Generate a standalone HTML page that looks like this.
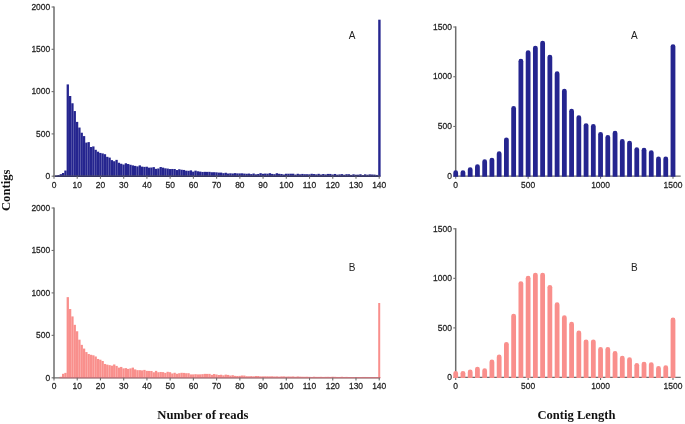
<!DOCTYPE html>
<html><head><meta charset="utf-8"><title>Figure</title>
<style>
html,body{margin:0;padding:0;background:#fff;}
body{width:685px;height:424px;overflow:hidden;font-family:"Liberation Sans",sans-serif;}
svg{display:block;will-change:transform;}
svg text{font-family:"Liberation Sans",sans-serif;fill:#222;stroke:#222;stroke-width:0.25px;}
svg text.pl{stroke:none;fill:#222;}
svg text.sf{font-family:"Liberation Serif",serif;font-weight:bold;fill:#111;stroke:none;}
</style></head><body>
<svg width="685" height="424" viewBox="0 0 685 424">
<rect width="685" height="424" fill="#fff"/>
<rect x="55.01" y="175.52" width="2.323" height="0.68" fill="#25258f"/>
<rect x="57.33" y="175.02" width="2.323" height="1.18" fill="#25258f"/>
<rect x="59.66" y="174.17" width="2.323" height="2.03" fill="#25258f"/>
<rect x="61.98" y="172.99" width="2.323" height="3.21" fill="#25258f"/>
<rect x="64.30" y="170.53" width="2.323" height="5.67" fill="#25258f"/>
<rect x="66.62" y="84.41" width="2.323" height="91.79" fill="#25258f"/>
<rect x="68.95" y="96.00" width="2.323" height="80.20" fill="#25258f"/>
<rect x="71.27" y="103.27" width="2.323" height="72.93" fill="#25258f"/>
<rect x="73.59" y="111.06" width="2.323" height="65.14" fill="#25258f"/>
<rect x="75.92" y="121.89" width="2.323" height="54.31" fill="#25258f"/>
<rect x="78.24" y="127.55" width="2.323" height="48.64" fill="#25258f"/>
<rect x="80.56" y="132.72" width="2.323" height="43.48" fill="#25258f"/>
<rect x="82.89" y="136.10" width="2.323" height="40.10" fill="#25258f"/>
<rect x="85.21" y="142.61" width="2.323" height="33.59" fill="#25258f"/>
<rect x="87.53" y="142.11" width="2.323" height="34.09" fill="#25258f"/>
<rect x="89.85" y="147.01" width="2.323" height="29.19" fill="#25258f"/>
<rect x="92.18" y="146.42" width="2.323" height="29.78" fill="#25258f"/>
<rect x="94.50" y="149.80" width="2.323" height="26.40" fill="#25258f"/>
<rect x="96.82" y="151.67" width="2.323" height="24.53" fill="#25258f"/>
<rect x="99.15" y="152.94" width="2.323" height="23.26" fill="#25258f"/>
<rect x="101.47" y="153.44" width="2.323" height="22.76" fill="#25258f"/>
<rect x="103.79" y="154.20" width="2.323" height="22.00" fill="#25258f"/>
<rect x="106.12" y="156.83" width="2.323" height="19.37" fill="#25258f"/>
<rect x="108.44" y="157.59" width="2.323" height="18.61" fill="#25258f"/>
<rect x="110.76" y="160.13" width="2.323" height="16.07" fill="#25258f"/>
<rect x="113.08" y="161.23" width="2.323" height="14.97" fill="#25258f"/>
<rect x="115.41" y="159.87" width="2.323" height="16.33" fill="#25258f"/>
<rect x="117.73" y="162.75" width="2.323" height="13.45" fill="#25258f"/>
<rect x="120.05" y="163.76" width="2.323" height="12.44" fill="#25258f"/>
<rect x="122.38" y="164.53" width="2.323" height="11.67" fill="#25258f"/>
<rect x="124.70" y="163.26" width="2.323" height="12.94" fill="#25258f"/>
<rect x="127.02" y="164.02" width="2.323" height="12.18" fill="#25258f"/>
<rect x="129.35" y="164.78" width="2.323" height="11.42" fill="#25258f"/>
<rect x="131.67" y="165.37" width="2.323" height="10.83" fill="#25258f"/>
<rect x="133.99" y="165.88" width="2.323" height="10.32" fill="#25258f"/>
<rect x="136.31" y="166.39" width="2.323" height="9.81" fill="#25258f"/>
<rect x="138.64" y="165.37" width="2.323" height="10.83" fill="#25258f"/>
<rect x="140.96" y="166.64" width="2.323" height="9.56" fill="#25258f"/>
<rect x="143.28" y="166.89" width="2.323" height="9.31" fill="#25258f"/>
<rect x="145.61" y="166.72" width="2.323" height="9.48" fill="#25258f"/>
<rect x="147.93" y="167.64" width="2.323" height="8.56" fill="#25258f"/>
<rect x="150.25" y="167.53" width="2.323" height="8.67" fill="#25258f"/>
<rect x="152.58" y="167.13" width="2.323" height="9.07" fill="#25258f"/>
<rect x="154.90" y="168.83" width="2.323" height="7.37" fill="#25258f"/>
<rect x="157.22" y="168.47" width="2.323" height="7.73" fill="#25258f"/>
<rect x="159.54" y="167.03" width="2.323" height="9.17" fill="#25258f"/>
<rect x="161.87" y="167.65" width="2.323" height="8.55" fill="#25258f"/>
<rect x="164.19" y="168.32" width="2.323" height="7.88" fill="#25258f"/>
<rect x="166.51" y="168.58" width="2.323" height="7.62" fill="#25258f"/>
<rect x="168.84" y="169.05" width="2.323" height="7.15" fill="#25258f"/>
<rect x="171.16" y="168.97" width="2.323" height="7.23" fill="#25258f"/>
<rect x="173.48" y="169.02" width="2.323" height="7.18" fill="#25258f"/>
<rect x="175.81" y="170.06" width="2.323" height="6.14" fill="#25258f"/>
<rect x="178.13" y="169.26" width="2.323" height="6.94" fill="#25258f"/>
<rect x="180.45" y="169.74" width="2.323" height="6.46" fill="#25258f"/>
<rect x="182.77" y="169.96" width="2.323" height="6.24" fill="#25258f"/>
<rect x="185.10" y="170.68" width="2.323" height="5.52" fill="#25258f"/>
<rect x="187.42" y="170.80" width="2.323" height="5.40" fill="#25258f"/>
<rect x="189.74" y="170.36" width="2.323" height="5.84" fill="#25258f"/>
<rect x="192.07" y="171.64" width="2.323" height="4.56" fill="#25258f"/>
<rect x="194.39" y="170.64" width="2.323" height="5.56" fill="#25258f"/>
<rect x="196.71" y="171.28" width="2.323" height="4.92" fill="#25258f"/>
<rect x="199.04" y="171.60" width="2.323" height="4.60" fill="#25258f"/>
<rect x="201.36" y="171.95" width="2.323" height="4.25" fill="#25258f"/>
<rect x="203.68" y="171.83" width="2.323" height="4.37" fill="#25258f"/>
<rect x="206.00" y="171.88" width="2.323" height="4.32" fill="#25258f"/>
<rect x="208.33" y="171.85" width="2.323" height="4.35" fill="#25258f"/>
<rect x="210.65" y="172.23" width="2.323" height="3.97" fill="#25258f"/>
<rect x="212.97" y="172.20" width="2.323" height="4.00" fill="#25258f"/>
<rect x="215.30" y="172.34" width="2.323" height="3.86" fill="#25258f"/>
<rect x="217.62" y="172.61" width="2.323" height="3.59" fill="#25258f"/>
<rect x="219.94" y="172.59" width="2.323" height="3.61" fill="#25258f"/>
<rect x="222.27" y="173.18" width="2.323" height="3.02" fill="#25258f"/>
<rect x="224.59" y="172.76" width="2.323" height="3.44" fill="#25258f"/>
<rect x="226.91" y="173.51" width="2.323" height="2.69" fill="#25258f"/>
<rect x="229.23" y="173.31" width="2.323" height="2.89" fill="#25258f"/>
<rect x="231.56" y="173.49" width="2.323" height="2.71" fill="#25258f"/>
<rect x="233.88" y="173.12" width="2.323" height="3.08" fill="#25258f"/>
<rect x="236.20" y="173.41" width="2.323" height="2.79" fill="#25258f"/>
<rect x="238.53" y="173.42" width="2.323" height="2.78" fill="#25258f"/>
<rect x="240.85" y="173.32" width="2.323" height="2.88" fill="#25258f"/>
<rect x="243.17" y="173.61" width="2.323" height="2.59" fill="#25258f"/>
<rect x="245.50" y="173.77" width="2.323" height="2.43" fill="#25258f"/>
<rect x="247.82" y="173.57" width="2.323" height="2.63" fill="#25258f"/>
<rect x="250.14" y="174.09" width="2.323" height="2.11" fill="#25258f"/>
<rect x="252.46" y="173.52" width="2.323" height="2.68" fill="#25258f"/>
<rect x="254.79" y="174.34" width="2.323" height="1.86" fill="#25258f"/>
<rect x="257.11" y="173.97" width="2.323" height="2.23" fill="#25258f"/>
<rect x="259.43" y="173.18" width="2.323" height="3.02" fill="#25258f"/>
<rect x="261.76" y="173.80" width="2.323" height="2.40" fill="#25258f"/>
<rect x="264.08" y="173.57" width="2.323" height="2.63" fill="#25258f"/>
<rect x="266.40" y="173.70" width="2.323" height="2.50" fill="#25258f"/>
<rect x="268.73" y="173.20" width="2.323" height="3.00" fill="#25258f"/>
<rect x="271.05" y="173.91" width="2.323" height="2.29" fill="#25258f"/>
<rect x="273.37" y="174.18" width="2.323" height="2.02" fill="#25258f"/>
<rect x="275.69" y="173.22" width="2.323" height="2.98" fill="#25258f"/>
<rect x="278.02" y="173.80" width="2.323" height="2.40" fill="#25258f"/>
<rect x="280.34" y="173.99" width="2.323" height="2.21" fill="#25258f"/>
<rect x="282.66" y="174.52" width="2.323" height="1.68" fill="#25258f"/>
<rect x="284.99" y="173.75" width="2.323" height="2.45" fill="#25258f"/>
<rect x="287.31" y="173.77" width="2.323" height="2.43" fill="#25258f"/>
<rect x="289.63" y="173.72" width="2.323" height="2.48" fill="#25258f"/>
<rect x="291.96" y="173.71" width="2.323" height="2.49" fill="#25258f"/>
<rect x="294.28" y="174.58" width="2.323" height="1.62" fill="#25258f"/>
<rect x="296.60" y="173.78" width="2.323" height="2.42" fill="#25258f"/>
<rect x="298.92" y="174.32" width="2.323" height="1.88" fill="#25258f"/>
<rect x="301.25" y="173.92" width="2.323" height="2.28" fill="#25258f"/>
<rect x="303.57" y="174.21" width="2.323" height="1.99" fill="#25258f"/>
<rect x="305.89" y="174.22" width="2.323" height="1.98" fill="#25258f"/>
<rect x="308.22" y="174.32" width="2.323" height="1.88" fill="#25258f"/>
<rect x="310.54" y="173.79" width="2.323" height="2.41" fill="#25258f"/>
<rect x="312.86" y="174.06" width="2.323" height="2.14" fill="#25258f"/>
<rect x="315.19" y="174.38" width="2.323" height="1.82" fill="#25258f"/>
<rect x="317.51" y="173.84" width="2.323" height="2.36" fill="#25258f"/>
<rect x="319.83" y="174.56" width="2.323" height="1.64" fill="#25258f"/>
<rect x="322.15" y="174.02" width="2.323" height="2.18" fill="#25258f"/>
<rect x="324.48" y="174.46" width="2.323" height="1.74" fill="#25258f"/>
<rect x="326.80" y="173.93" width="2.323" height="2.27" fill="#25258f"/>
<rect x="329.12" y="173.94" width="2.323" height="2.26" fill="#25258f"/>
<rect x="331.45" y="174.51" width="2.323" height="1.69" fill="#25258f"/>
<rect x="333.77" y="173.97" width="2.323" height="2.23" fill="#25258f"/>
<rect x="336.09" y="174.67" width="2.323" height="1.53" fill="#25258f"/>
<rect x="338.42" y="174.39" width="2.323" height="1.81" fill="#25258f"/>
<rect x="340.74" y="174.14" width="2.323" height="2.06" fill="#25258f"/>
<rect x="343.06" y="174.77" width="2.323" height="1.43" fill="#25258f"/>
<rect x="345.38" y="174.20" width="2.323" height="2.00" fill="#25258f"/>
<rect x="347.71" y="174.23" width="2.323" height="1.97" fill="#25258f"/>
<rect x="350.03" y="174.89" width="2.323" height="1.31" fill="#25258f"/>
<rect x="352.35" y="174.30" width="2.323" height="1.90" fill="#25258f"/>
<rect x="354.68" y="174.73" width="2.323" height="1.47" fill="#25258f"/>
<rect x="357.00" y="174.68" width="2.323" height="1.52" fill="#25258f"/>
<rect x="359.32" y="174.26" width="2.323" height="1.94" fill="#25258f"/>
<rect x="361.65" y="175.08" width="2.323" height="1.12" fill="#25258f"/>
<rect x="363.97" y="174.34" width="2.323" height="1.86" fill="#25258f"/>
<rect x="366.29" y="174.74" width="2.323" height="1.46" fill="#25258f"/>
<rect x="368.61" y="174.35" width="2.323" height="1.85" fill="#25258f"/>
<rect x="370.94" y="174.52" width="2.323" height="1.68" fill="#25258f"/>
<rect x="373.26" y="174.61" width="2.323" height="1.59" fill="#25258f"/>
<rect x="375.58" y="174.93" width="2.323" height="1.27" fill="#25258f"/>
<rect x="378.21" y="19.69" width="2.4" height="156.51" fill="#25258f"/>
<line x1="54.00" y1="6.40" x2="54.00" y2="176.80" stroke="#6e6e6e" stroke-width="1.5" stroke-linecap="butt"/>
<line x1="53.40" y1="176.20" x2="380.02" y2="176.20" stroke="#6e6e6e" stroke-width="1.2" stroke-linecap="butt"/>
<line x1="54.93" y1="176.20" x2="380.61" y2="176.20" stroke="#1b1b58" stroke-width="1.1" stroke-linecap="butt"/>
<line x1="51.60" y1="176.20" x2="54.00" y2="176.20" stroke="#6e6e6e" stroke-width="1.1" stroke-linecap="butt"/>
<text transform="translate(50.20,178.90) scale(0.91,1.05)" text-anchor="end" font-size="9.3" >0</text>
<line x1="51.60" y1="133.90" x2="54.00" y2="133.90" stroke="#6e6e6e" stroke-width="1.1" stroke-linecap="butt"/>
<text transform="translate(50.20,136.60) scale(0.91,1.05)" text-anchor="end" font-size="9.3" >500</text>
<line x1="51.60" y1="91.60" x2="54.00" y2="91.60" stroke="#6e6e6e" stroke-width="1.1" stroke-linecap="butt"/>
<text transform="translate(50.20,94.30) scale(0.91,1.05)" text-anchor="end" font-size="9.3" >1000</text>
<line x1="51.60" y1="49.30" x2="54.00" y2="49.30" stroke="#6e6e6e" stroke-width="1.1" stroke-linecap="butt"/>
<text transform="translate(50.20,52.00) scale(0.91,1.05)" text-anchor="end" font-size="9.3" >1500</text>
<line x1="51.60" y1="7.00" x2="54.00" y2="7.00" stroke="#6e6e6e" stroke-width="1.1" stroke-linecap="butt"/>
<text transform="translate(50.20,9.70) scale(0.91,1.05)" text-anchor="end" font-size="9.3" >2000</text>
<line x1="54.00" y1="176.20" x2="54.00" y2="178.80" stroke="#6e6e6e" stroke-width="1.1" stroke-linecap="butt"/>
<text transform="translate(54.00,187.70) scale(0.91,1.05)" text-anchor="middle" font-size="9.3" >0</text>
<line x1="77.23" y1="176.20" x2="77.23" y2="178.80" stroke="#6e6e6e" stroke-width="1.1" stroke-linecap="butt"/>
<text transform="translate(77.23,187.70) scale(0.91,1.05)" text-anchor="middle" font-size="9.3" >10</text>
<line x1="100.46" y1="176.20" x2="100.46" y2="178.80" stroke="#6e6e6e" stroke-width="1.1" stroke-linecap="butt"/>
<text transform="translate(100.46,187.70) scale(0.91,1.05)" text-anchor="middle" font-size="9.3" >20</text>
<line x1="123.69" y1="176.20" x2="123.69" y2="178.80" stroke="#6e6e6e" stroke-width="1.1" stroke-linecap="butt"/>
<text transform="translate(123.69,187.70) scale(0.91,1.05)" text-anchor="middle" font-size="9.3" >30</text>
<line x1="146.92" y1="176.20" x2="146.92" y2="178.80" stroke="#6e6e6e" stroke-width="1.1" stroke-linecap="butt"/>
<text transform="translate(146.92,187.70) scale(0.91,1.05)" text-anchor="middle" font-size="9.3" >40</text>
<line x1="170.15" y1="176.20" x2="170.15" y2="178.80" stroke="#6e6e6e" stroke-width="1.1" stroke-linecap="butt"/>
<text transform="translate(170.15,187.70) scale(0.91,1.05)" text-anchor="middle" font-size="9.3" >50</text>
<line x1="193.38" y1="176.20" x2="193.38" y2="178.80" stroke="#6e6e6e" stroke-width="1.1" stroke-linecap="butt"/>
<text transform="translate(193.38,187.70) scale(0.91,1.05)" text-anchor="middle" font-size="9.3" >60</text>
<line x1="216.61" y1="176.20" x2="216.61" y2="178.80" stroke="#6e6e6e" stroke-width="1.1" stroke-linecap="butt"/>
<text transform="translate(216.61,187.70) scale(0.91,1.05)" text-anchor="middle" font-size="9.3" >70</text>
<line x1="239.84" y1="176.20" x2="239.84" y2="178.80" stroke="#6e6e6e" stroke-width="1.1" stroke-linecap="butt"/>
<text transform="translate(239.84,187.70) scale(0.91,1.05)" text-anchor="middle" font-size="9.3" >80</text>
<line x1="263.07" y1="176.20" x2="263.07" y2="178.80" stroke="#6e6e6e" stroke-width="1.1" stroke-linecap="butt"/>
<text transform="translate(263.07,187.70) scale(0.91,1.05)" text-anchor="middle" font-size="9.3" >90</text>
<line x1="286.30" y1="176.20" x2="286.30" y2="178.80" stroke="#6e6e6e" stroke-width="1.1" stroke-linecap="butt"/>
<text transform="translate(286.30,187.70) scale(0.91,1.05)" text-anchor="middle" font-size="9.3" >100</text>
<line x1="309.53" y1="176.20" x2="309.53" y2="178.80" stroke="#6e6e6e" stroke-width="1.1" stroke-linecap="butt"/>
<text transform="translate(309.53,187.70) scale(0.91,1.05)" text-anchor="middle" font-size="9.3" >110</text>
<line x1="332.76" y1="176.20" x2="332.76" y2="178.80" stroke="#6e6e6e" stroke-width="1.1" stroke-linecap="butt"/>
<text transform="translate(332.76,187.70) scale(0.91,1.05)" text-anchor="middle" font-size="9.3" >120</text>
<line x1="355.99" y1="176.20" x2="355.99" y2="178.80" stroke="#6e6e6e" stroke-width="1.1" stroke-linecap="butt"/>
<text transform="translate(355.99,187.70) scale(0.91,1.05)" text-anchor="middle" font-size="9.3" >130</text>
<line x1="379.22" y1="176.20" x2="379.22" y2="178.80" stroke="#6e6e6e" stroke-width="1.1" stroke-linecap="butt"/>
<text transform="translate(379.22,187.70) scale(0.91,1.05)" text-anchor="middle" font-size="9.3" >140</text>
<rect x="59.66" y="376.78" width="2.323" height="1.02" fill="#f98f8c"/>
<rect x="61.98" y="373.81" width="2.323" height="3.99" fill="#f98f8c"/>
<rect x="64.30" y="372.88" width="2.323" height="4.92" fill="#f98f8c"/>
<rect x="66.62" y="297.14" width="2.323" height="80.66" fill="#f98f8c"/>
<rect x="68.95" y="309.03" width="2.323" height="68.77" fill="#f98f8c"/>
<rect x="71.27" y="316.42" width="2.323" height="61.38" fill="#f98f8c"/>
<rect x="73.59" y="324.82" width="2.323" height="52.98" fill="#f98f8c"/>
<rect x="75.92" y="331.27" width="2.323" height="46.53" fill="#f98f8c"/>
<rect x="78.24" y="339.68" width="2.323" height="38.12" fill="#f98f8c"/>
<rect x="80.56" y="344.86" width="2.323" height="32.94" fill="#f98f8c"/>
<rect x="82.89" y="348.59" width="2.323" height="29.21" fill="#f98f8c"/>
<rect x="85.21" y="352.08" width="2.323" height="25.72" fill="#f98f8c"/>
<rect x="87.53" y="354.03" width="2.323" height="23.77" fill="#f98f8c"/>
<rect x="89.85" y="354.79" width="2.323" height="23.01" fill="#f98f8c"/>
<rect x="92.18" y="355.30" width="2.323" height="22.50" fill="#f98f8c"/>
<rect x="94.50" y="356.49" width="2.323" height="21.31" fill="#f98f8c"/>
<rect x="96.82" y="358.95" width="2.323" height="18.85" fill="#f98f8c"/>
<rect x="99.15" y="359.72" width="2.323" height="18.08" fill="#f98f8c"/>
<rect x="101.47" y="360.99" width="2.323" height="16.81" fill="#f98f8c"/>
<rect x="103.79" y="363.96" width="2.323" height="13.84" fill="#f98f8c"/>
<rect x="106.12" y="364.64" width="2.323" height="13.16" fill="#f98f8c"/>
<rect x="108.44" y="365.15" width="2.323" height="12.65" fill="#f98f8c"/>
<rect x="110.76" y="365.66" width="2.323" height="12.14" fill="#f98f8c"/>
<rect x="113.08" y="364.47" width="2.323" height="13.33" fill="#f98f8c"/>
<rect x="115.41" y="365.91" width="2.323" height="11.89" fill="#f98f8c"/>
<rect x="117.73" y="367.61" width="2.323" height="10.19" fill="#f98f8c"/>
<rect x="120.05" y="366.93" width="2.323" height="10.87" fill="#f98f8c"/>
<rect x="122.38" y="368.38" width="2.323" height="9.42" fill="#f98f8c"/>
<rect x="124.70" y="368.12" width="2.323" height="9.68" fill="#f98f8c"/>
<rect x="127.02" y="368.89" width="2.323" height="8.91" fill="#f98f8c"/>
<rect x="129.35" y="368.38" width="2.323" height="9.42" fill="#f98f8c"/>
<rect x="131.67" y="367.61" width="2.323" height="10.19" fill="#f98f8c"/>
<rect x="133.99" y="369.39" width="2.323" height="8.41" fill="#f98f8c"/>
<rect x="136.31" y="370.16" width="2.323" height="7.64" fill="#f98f8c"/>
<rect x="138.64" y="370.16" width="2.323" height="7.64" fill="#f98f8c"/>
<rect x="140.96" y="370.41" width="2.323" height="7.39" fill="#f98f8c"/>
<rect x="143.28" y="369.90" width="2.323" height="7.90" fill="#f98f8c"/>
<rect x="145.61" y="370.84" width="2.323" height="6.96" fill="#f98f8c"/>
<rect x="147.93" y="370.92" width="2.323" height="6.88" fill="#f98f8c"/>
<rect x="150.25" y="370.98" width="2.323" height="6.82" fill="#f98f8c"/>
<rect x="152.58" y="372.27" width="2.323" height="5.53" fill="#f98f8c"/>
<rect x="154.90" y="370.88" width="2.323" height="6.92" fill="#f98f8c"/>
<rect x="157.22" y="372.25" width="2.323" height="5.55" fill="#f98f8c"/>
<rect x="159.54" y="371.96" width="2.323" height="5.84" fill="#f98f8c"/>
<rect x="161.87" y="372.13" width="2.323" height="5.67" fill="#f98f8c"/>
<rect x="164.19" y="372.88" width="2.323" height="4.92" fill="#f98f8c"/>
<rect x="166.51" y="371.81" width="2.323" height="5.99" fill="#f98f8c"/>
<rect x="168.84" y="372.22" width="2.323" height="5.58" fill="#f98f8c"/>
<rect x="171.16" y="373.47" width="2.323" height="4.33" fill="#f98f8c"/>
<rect x="173.48" y="372.77" width="2.323" height="5.03" fill="#f98f8c"/>
<rect x="175.81" y="373.77" width="2.323" height="4.03" fill="#f98f8c"/>
<rect x="178.13" y="373.24" width="2.323" height="4.56" fill="#f98f8c"/>
<rect x="180.45" y="372.80" width="2.323" height="5.00" fill="#f98f8c"/>
<rect x="182.77" y="372.91" width="2.323" height="4.89" fill="#f98f8c"/>
<rect x="185.10" y="373.23" width="2.323" height="4.57" fill="#f98f8c"/>
<rect x="187.42" y="373.21" width="2.323" height="4.59" fill="#f98f8c"/>
<rect x="189.74" y="374.42" width="2.323" height="3.38" fill="#f98f8c"/>
<rect x="192.07" y="374.40" width="2.323" height="3.40" fill="#f98f8c"/>
<rect x="194.39" y="374.19" width="2.323" height="3.61" fill="#f98f8c"/>
<rect x="196.71" y="374.40" width="2.323" height="3.40" fill="#f98f8c"/>
<rect x="199.04" y="374.35" width="2.323" height="3.45" fill="#f98f8c"/>
<rect x="201.36" y="374.17" width="2.323" height="3.63" fill="#f98f8c"/>
<rect x="203.68" y="373.87" width="2.323" height="3.93" fill="#f98f8c"/>
<rect x="206.00" y="373.90" width="2.323" height="3.90" fill="#f98f8c"/>
<rect x="208.33" y="373.89" width="2.323" height="3.91" fill="#f98f8c"/>
<rect x="210.65" y="374.83" width="2.323" height="2.97" fill="#f98f8c"/>
<rect x="212.97" y="374.04" width="2.323" height="3.76" fill="#f98f8c"/>
<rect x="215.30" y="374.50" width="2.323" height="3.30" fill="#f98f8c"/>
<rect x="217.62" y="374.98" width="2.323" height="2.82" fill="#f98f8c"/>
<rect x="219.94" y="374.74" width="2.323" height="3.06" fill="#f98f8c"/>
<rect x="222.27" y="375.33" width="2.323" height="2.47" fill="#f98f8c"/>
<rect x="224.59" y="374.62" width="2.323" height="3.18" fill="#f98f8c"/>
<rect x="226.91" y="374.91" width="2.323" height="2.89" fill="#f98f8c"/>
<rect x="229.23" y="375.57" width="2.323" height="2.23" fill="#f98f8c"/>
<rect x="231.56" y="375.20" width="2.323" height="2.60" fill="#f98f8c"/>
<rect x="233.88" y="375.86" width="2.323" height="1.94" fill="#f98f8c"/>
<rect x="236.20" y="375.96" width="2.323" height="1.84" fill="#f98f8c"/>
<rect x="238.53" y="375.87" width="2.323" height="1.93" fill="#f98f8c"/>
<rect x="240.85" y="375.52" width="2.323" height="2.28" fill="#f98f8c"/>
<rect x="243.17" y="375.58" width="2.323" height="2.22" fill="#f98f8c"/>
<rect x="245.50" y="376.19" width="2.323" height="1.61" fill="#f98f8c"/>
<rect x="247.82" y="376.27" width="2.323" height="1.53" fill="#f98f8c"/>
<rect x="250.14" y="376.11" width="2.323" height="1.69" fill="#f98f8c"/>
<rect x="252.46" y="376.30" width="2.323" height="1.50" fill="#f98f8c"/>
<rect x="254.79" y="375.99" width="2.323" height="1.81" fill="#f98f8c"/>
<rect x="257.11" y="376.01" width="2.323" height="1.79" fill="#f98f8c"/>
<rect x="259.43" y="376.36" width="2.323" height="1.44" fill="#f98f8c"/>
<rect x="261.76" y="376.35" width="2.323" height="1.45" fill="#f98f8c"/>
<rect x="264.08" y="376.32" width="2.323" height="1.48" fill="#f98f8c"/>
<rect x="266.40" y="376.32" width="2.323" height="1.48" fill="#f98f8c"/>
<rect x="268.73" y="376.38" width="2.323" height="1.42" fill="#f98f8c"/>
<rect x="271.05" y="376.29" width="2.323" height="1.51" fill="#f98f8c"/>
<rect x="273.37" y="376.49" width="2.323" height="1.31" fill="#f98f8c"/>
<rect x="275.69" y="376.40" width="2.323" height="1.40" fill="#f98f8c"/>
<rect x="278.02" y="376.63" width="2.323" height="1.17" fill="#f98f8c"/>
<rect x="280.34" y="376.39" width="2.323" height="1.41" fill="#f98f8c"/>
<rect x="282.66" y="376.38" width="2.323" height="1.42" fill="#f98f8c"/>
<rect x="284.99" y="376.63" width="2.323" height="1.17" fill="#f98f8c"/>
<rect x="287.31" y="376.49" width="2.323" height="1.31" fill="#f98f8c"/>
<rect x="289.63" y="376.57" width="2.323" height="1.23" fill="#f98f8c"/>
<rect x="291.96" y="376.45" width="2.323" height="1.35" fill="#f98f8c"/>
<rect x="294.28" y="376.75" width="2.323" height="1.05" fill="#f98f8c"/>
<rect x="296.60" y="376.44" width="2.323" height="1.36" fill="#f98f8c"/>
<rect x="298.92" y="376.66" width="2.323" height="1.14" fill="#f98f8c"/>
<rect x="301.25" y="376.74" width="2.323" height="1.06" fill="#f98f8c"/>
<rect x="303.57" y="376.78" width="2.323" height="1.02" fill="#f98f8c"/>
<rect x="305.89" y="376.72" width="2.323" height="1.08" fill="#f98f8c"/>
<rect x="308.22" y="376.82" width="2.323" height="0.98" fill="#f98f8c"/>
<rect x="310.54" y="376.94" width="2.323" height="0.86" fill="#f98f8c"/>
<rect x="312.86" y="376.70" width="2.323" height="1.10" fill="#f98f8c"/>
<rect x="315.19" y="376.87" width="2.323" height="0.93" fill="#f98f8c"/>
<rect x="317.51" y="376.87" width="2.323" height="0.93" fill="#f98f8c"/>
<rect x="319.83" y="376.80" width="2.323" height="1.00" fill="#f98f8c"/>
<rect x="322.15" y="376.91" width="2.323" height="0.89" fill="#f98f8c"/>
<rect x="324.48" y="376.84" width="2.323" height="0.96" fill="#f98f8c"/>
<rect x="326.80" y="376.80" width="2.323" height="1.00" fill="#f98f8c"/>
<rect x="329.12" y="376.89" width="2.323" height="0.91" fill="#f98f8c"/>
<rect x="331.45" y="376.73" width="2.323" height="1.07" fill="#f98f8c"/>
<rect x="333.77" y="376.82" width="2.323" height="0.98" fill="#f98f8c"/>
<rect x="336.09" y="376.95" width="2.323" height="0.85" fill="#f98f8c"/>
<rect x="338.42" y="376.95" width="2.323" height="0.85" fill="#f98f8c"/>
<rect x="340.74" y="376.78" width="2.323" height="1.02" fill="#f98f8c"/>
<rect x="343.06" y="376.97" width="2.323" height="0.83" fill="#f98f8c"/>
<rect x="345.38" y="376.89" width="2.323" height="0.91" fill="#f98f8c"/>
<rect x="347.71" y="377.00" width="2.323" height="0.80" fill="#f98f8c"/>
<rect x="350.03" y="377.04" width="2.323" height="0.76" fill="#f98f8c"/>
<rect x="352.35" y="377.07" width="2.323" height="0.73" fill="#f98f8c"/>
<rect x="354.68" y="377.06" width="2.323" height="0.74" fill="#f98f8c"/>
<rect x="357.00" y="377.07" width="2.323" height="0.73" fill="#f98f8c"/>
<rect x="359.32" y="377.14" width="2.323" height="0.66" fill="#f98f8c"/>
<rect x="361.65" y="376.96" width="2.323" height="0.84" fill="#f98f8c"/>
<rect x="363.97" y="376.96" width="2.323" height="0.84" fill="#f98f8c"/>
<rect x="366.29" y="376.98" width="2.323" height="0.82" fill="#f98f8c"/>
<rect x="368.61" y="377.16" width="2.323" height="0.64" fill="#f98f8c"/>
<rect x="370.94" y="377.03" width="2.323" height="0.77" fill="#f98f8c"/>
<rect x="373.26" y="377.11" width="2.323" height="0.69" fill="#f98f8c"/>
<rect x="375.58" y="377.16" width="2.323" height="0.64" fill="#f98f8c"/>
<rect x="378.21" y="303.00" width="2.0" height="74.80" fill="#f98f8c"/>
<line x1="54.00" y1="207.40" x2="54.00" y2="378.40" stroke="#6e6e6e" stroke-width="1.5" stroke-linecap="butt"/>
<line x1="53.40" y1="377.80" x2="380.02" y2="377.80" stroke="#6e6e6e" stroke-width="1.2" stroke-linecap="butt"/>
<line x1="59.58" y1="377.80" x2="380.61" y2="377.80" stroke="#d9737c" stroke-width="1.1" stroke-linecap="butt"/>
<line x1="51.60" y1="377.80" x2="54.00" y2="377.80" stroke="#6e6e6e" stroke-width="1.1" stroke-linecap="butt"/>
<text transform="translate(50.20,380.50) scale(0.91,1.05)" text-anchor="end" font-size="9.3" >0</text>
<line x1="51.60" y1="335.35" x2="54.00" y2="335.35" stroke="#6e6e6e" stroke-width="1.1" stroke-linecap="butt"/>
<text transform="translate(50.20,338.05) scale(0.91,1.05)" text-anchor="end" font-size="9.3" >500</text>
<line x1="51.60" y1="292.90" x2="54.00" y2="292.90" stroke="#6e6e6e" stroke-width="1.1" stroke-linecap="butt"/>
<text transform="translate(50.20,295.60) scale(0.91,1.05)" text-anchor="end" font-size="9.3" >1000</text>
<line x1="51.60" y1="250.45" x2="54.00" y2="250.45" stroke="#6e6e6e" stroke-width="1.1" stroke-linecap="butt"/>
<text transform="translate(50.20,253.15) scale(0.91,1.05)" text-anchor="end" font-size="9.3" >1500</text>
<line x1="51.60" y1="208.00" x2="54.00" y2="208.00" stroke="#6e6e6e" stroke-width="1.1" stroke-linecap="butt"/>
<text transform="translate(50.20,210.70) scale(0.91,1.05)" text-anchor="end" font-size="9.3" >2000</text>
<line x1="54.00" y1="377.80" x2="54.00" y2="380.40" stroke="#6e6e6e" stroke-width="1.1" stroke-linecap="butt"/>
<text transform="translate(54.00,389.30) scale(0.91,1.05)" text-anchor="middle" font-size="9.3" >0</text>
<line x1="77.23" y1="377.80" x2="77.23" y2="380.40" stroke="#6e6e6e" stroke-width="1.1" stroke-linecap="butt"/>
<text transform="translate(77.23,389.30) scale(0.91,1.05)" text-anchor="middle" font-size="9.3" >10</text>
<line x1="100.46" y1="377.80" x2="100.46" y2="380.40" stroke="#6e6e6e" stroke-width="1.1" stroke-linecap="butt"/>
<text transform="translate(100.46,389.30) scale(0.91,1.05)" text-anchor="middle" font-size="9.3" >20</text>
<line x1="123.69" y1="377.80" x2="123.69" y2="380.40" stroke="#6e6e6e" stroke-width="1.1" stroke-linecap="butt"/>
<text transform="translate(123.69,389.30) scale(0.91,1.05)" text-anchor="middle" font-size="9.3" >30</text>
<line x1="146.92" y1="377.80" x2="146.92" y2="380.40" stroke="#6e6e6e" stroke-width="1.1" stroke-linecap="butt"/>
<text transform="translate(146.92,389.30) scale(0.91,1.05)" text-anchor="middle" font-size="9.3" >40</text>
<line x1="170.15" y1="377.80" x2="170.15" y2="380.40" stroke="#6e6e6e" stroke-width="1.1" stroke-linecap="butt"/>
<text transform="translate(170.15,389.30) scale(0.91,1.05)" text-anchor="middle" font-size="9.3" >50</text>
<line x1="193.38" y1="377.80" x2="193.38" y2="380.40" stroke="#6e6e6e" stroke-width="1.1" stroke-linecap="butt"/>
<text transform="translate(193.38,389.30) scale(0.91,1.05)" text-anchor="middle" font-size="9.3" >60</text>
<line x1="216.61" y1="377.80" x2="216.61" y2="380.40" stroke="#6e6e6e" stroke-width="1.1" stroke-linecap="butt"/>
<text transform="translate(216.61,389.30) scale(0.91,1.05)" text-anchor="middle" font-size="9.3" >70</text>
<line x1="239.84" y1="377.80" x2="239.84" y2="380.40" stroke="#6e6e6e" stroke-width="1.1" stroke-linecap="butt"/>
<text transform="translate(239.84,389.30) scale(0.91,1.05)" text-anchor="middle" font-size="9.3" >80</text>
<line x1="263.07" y1="377.80" x2="263.07" y2="380.40" stroke="#6e6e6e" stroke-width="1.1" stroke-linecap="butt"/>
<text transform="translate(263.07,389.30) scale(0.91,1.05)" text-anchor="middle" font-size="9.3" >90</text>
<line x1="286.30" y1="377.80" x2="286.30" y2="380.40" stroke="#6e6e6e" stroke-width="1.1" stroke-linecap="butt"/>
<text transform="translate(286.30,389.30) scale(0.91,1.05)" text-anchor="middle" font-size="9.3" >100</text>
<line x1="309.53" y1="377.80" x2="309.53" y2="380.40" stroke="#6e6e6e" stroke-width="1.1" stroke-linecap="butt"/>
<text transform="translate(309.53,389.30) scale(0.91,1.05)" text-anchor="middle" font-size="9.3" >110</text>
<line x1="332.76" y1="377.80" x2="332.76" y2="380.40" stroke="#6e6e6e" stroke-width="1.1" stroke-linecap="butt"/>
<text transform="translate(332.76,389.30) scale(0.91,1.05)" text-anchor="middle" font-size="9.3" >120</text>
<line x1="355.99" y1="377.80" x2="355.99" y2="380.40" stroke="#6e6e6e" stroke-width="1.1" stroke-linecap="butt"/>
<text transform="translate(355.99,389.30) scale(0.91,1.05)" text-anchor="middle" font-size="9.3" >130</text>
<line x1="379.22" y1="377.80" x2="379.22" y2="380.40" stroke="#6e6e6e" stroke-width="1.1" stroke-linecap="butt"/>
<text transform="translate(379.22,389.30) scale(0.91,1.05)" text-anchor="middle" font-size="9.3" >140</text>
<line x1="455.70" y1="26.40" x2="455.70" y2="176.80" stroke="#6e6e6e" stroke-width="1.5" stroke-linecap="butt"/>
<line x1="455.10" y1="176.20" x2="680.70" y2="176.20" stroke="#6e6e6e" stroke-width="1.2" stroke-linecap="butt"/>
<line x1="453.30" y1="176.20" x2="455.70" y2="176.20" stroke="#6e6e6e" stroke-width="1.1" stroke-linecap="butt"/>
<text transform="translate(451.90,178.90) scale(0.91,1.05)" text-anchor="end" font-size="9.3" >0</text>
<line x1="453.30" y1="126.47" x2="455.70" y2="126.47" stroke="#6e6e6e" stroke-width="1.1" stroke-linecap="butt"/>
<text transform="translate(451.90,129.17) scale(0.91,1.05)" text-anchor="end" font-size="9.3" >500</text>
<line x1="453.30" y1="76.73" x2="455.70" y2="76.73" stroke="#6e6e6e" stroke-width="1.1" stroke-linecap="butt"/>
<text transform="translate(451.90,79.43) scale(0.91,1.05)" text-anchor="end" font-size="9.3" >1000</text>
<line x1="453.30" y1="27.00" x2="455.70" y2="27.00" stroke="#6e6e6e" stroke-width="1.1" stroke-linecap="butt"/>
<text transform="translate(451.90,29.70) scale(0.91,1.05)" text-anchor="end" font-size="9.3" >1500</text>
<line x1="455.70" y1="176.20" x2="455.70" y2="178.80" stroke="#6e6e6e" stroke-width="1.1" stroke-linecap="butt"/>
<text transform="translate(455.70,187.70) scale(0.91,1.05)" text-anchor="middle" font-size="9.3" >0</text>
<line x1="528.13" y1="176.20" x2="528.13" y2="178.80" stroke="#6e6e6e" stroke-width="1.1" stroke-linecap="butt"/>
<text transform="translate(528.13,187.70) scale(0.91,1.05)" text-anchor="middle" font-size="9.3" >500</text>
<line x1="600.56" y1="176.20" x2="600.56" y2="178.80" stroke="#6e6e6e" stroke-width="1.1" stroke-linecap="butt"/>
<text transform="translate(600.56,187.70) scale(0.91,1.05)" text-anchor="middle" font-size="9.3" >1000</text>
<line x1="672.99" y1="176.20" x2="672.99" y2="178.80" stroke="#6e6e6e" stroke-width="1.1" stroke-linecap="butt"/>
<text transform="translate(672.99,187.70) scale(0.91,1.05)" text-anchor="middle" font-size="9.3" >1500</text>
<path d="M453.30,176.80 L453.30,172.63 A2.4,2.4 0 0 1 458.10,172.63 L458.10,176.80 Z" fill="#25258f"/>
<path d="M460.54,176.80 L460.54,172.63 A2.4,2.4 0 0 1 465.34,172.63 L465.34,176.80 Z" fill="#25258f"/>
<path d="M467.79,176.80 L467.79,169.65 A2.4,2.4 0 0 1 472.59,169.65 L472.59,176.80 Z" fill="#25258f"/>
<path d="M475.03,176.80 L475.03,166.66 A2.4,2.4 0 0 1 479.83,166.66 L479.83,176.80 Z" fill="#25258f"/>
<path d="M482.27,176.80 L482.27,161.69 A2.4,2.4 0 0 1 487.07,161.69 L487.07,176.80 Z" fill="#25258f"/>
<path d="M489.51,176.80 L489.51,160.10 A2.4,2.4 0 0 1 494.31,160.10 L494.31,176.80 Z" fill="#25258f"/>
<path d="M496.76,176.80 L496.76,153.73 A2.4,2.4 0 0 1 501.56,153.73 L501.56,176.80 Z" fill="#25258f"/>
<path d="M504.00,176.80 L504.00,139.81 A2.4,2.4 0 0 1 508.80,139.81 L508.80,176.80 Z" fill="#25258f"/>
<path d="M511.24,176.80 L511.24,108.48 A2.4,2.4 0 0 1 516.04,108.48 L516.04,176.80 Z" fill="#25258f"/>
<path d="M518.49,176.80 L518.49,61.23 A2.4,2.4 0 0 1 523.29,61.23 L523.29,176.80 Z" fill="#25258f"/>
<path d="M525.73,176.80 L525.73,52.77 A2.4,2.4 0 0 1 530.53,52.77 L530.53,176.80 Z" fill="#25258f"/>
<path d="M532.97,176.80 L532.97,48.10 A2.4,2.4 0 0 1 537.77,48.10 L537.77,176.80 Z" fill="#25258f"/>
<path d="M540.22,176.80 L540.22,43.03 A2.4,2.4 0 0 1 545.02,43.03 L545.02,176.80 Z" fill="#25258f"/>
<path d="M547.46,176.80 L547.46,57.05 A2.4,2.4 0 0 1 552.26,57.05 L552.26,176.80 Z" fill="#25258f"/>
<path d="M554.70,176.80 L554.70,73.76 A2.4,2.4 0 0 1 559.50,73.76 L559.50,176.80 Z" fill="#25258f"/>
<path d="M561.95,176.80 L561.95,91.07 A2.4,2.4 0 0 1 566.75,91.07 L566.75,176.80 Z" fill="#25258f"/>
<path d="M569.19,176.80 L569.19,111.16 A2.4,2.4 0 0 1 573.99,111.16 L573.99,176.80 Z" fill="#25258f"/>
<path d="M576.43,176.80 L576.43,117.63 A2.4,2.4 0 0 1 581.23,117.63 L581.23,176.80 Z" fill="#25258f"/>
<path d="M583.67,176.80 L583.67,125.58 A2.4,2.4 0 0 1 588.47,125.58 L588.47,176.80 Z" fill="#25258f"/>
<path d="M590.92,176.80 L590.92,126.38 A2.4,2.4 0 0 1 595.72,126.38 L595.72,176.80 Z" fill="#25258f"/>
<path d="M598.16,176.80 L598.16,134.34 A2.4,2.4 0 0 1 602.96,134.34 L602.96,176.80 Z" fill="#25258f"/>
<path d="M605.40,176.80 L605.40,137.52 A2.4,2.4 0 0 1 610.20,137.52 L610.20,176.80 Z" fill="#25258f"/>
<path d="M612.65,176.80 L612.65,133.14 A2.4,2.4 0 0 1 617.45,133.14 L617.45,176.80 Z" fill="#25258f"/>
<path d="M619.89,176.80 L619.89,141.50 A2.4,2.4 0 0 1 624.69,141.50 L624.69,176.80 Z" fill="#25258f"/>
<path d="M627.13,176.80 L627.13,143.09 A2.4,2.4 0 0 1 631.93,143.09 L631.93,176.80 Z" fill="#25258f"/>
<path d="M634.38,176.80 L634.38,149.46 A2.4,2.4 0 0 1 639.17,149.46 L639.17,176.80 Z" fill="#25258f"/>
<path d="M641.62,176.80 L641.62,150.25 A2.4,2.4 0 0 1 646.42,150.25 L646.42,176.80 Z" fill="#25258f"/>
<path d="M648.86,176.80 L648.86,152.64 A2.4,2.4 0 0 1 653.66,152.64 L653.66,176.80 Z" fill="#25258f"/>
<path d="M656.10,176.80 L656.10,159.01 A2.4,2.4 0 0 1 660.90,159.01 L660.90,176.80 Z" fill="#25258f"/>
<path d="M663.35,176.80 L663.35,159.01 A2.4,2.4 0 0 1 668.15,159.01 L668.15,176.80 Z" fill="#25258f"/>
<path d="M670.59,176.80 L670.59,46.61 A2.4,2.4 0 0 1 675.39,46.61 L675.39,176.80 Z" fill="#25258f"/>
<line x1="455.70" y1="228.20" x2="455.70" y2="378.05" stroke="#6e6e6e" stroke-width="1.5" stroke-linecap="butt"/>
<line x1="455.10" y1="377.45" x2="680.70" y2="377.45" stroke="#6e6e6e" stroke-width="1.2" stroke-linecap="butt"/>
<line x1="453.30" y1="377.45" x2="455.70" y2="377.45" stroke="#6e6e6e" stroke-width="1.1" stroke-linecap="butt"/>
<text transform="translate(451.90,380.15) scale(0.91,1.05)" text-anchor="end" font-size="9.3" >0</text>
<line x1="453.30" y1="327.90" x2="455.70" y2="327.90" stroke="#6e6e6e" stroke-width="1.1" stroke-linecap="butt"/>
<text transform="translate(451.90,330.60) scale(0.91,1.05)" text-anchor="end" font-size="9.3" >500</text>
<line x1="453.30" y1="278.35" x2="455.70" y2="278.35" stroke="#6e6e6e" stroke-width="1.1" stroke-linecap="butt"/>
<text transform="translate(451.90,281.05) scale(0.91,1.05)" text-anchor="end" font-size="9.3" >1000</text>
<line x1="453.30" y1="228.80" x2="455.70" y2="228.80" stroke="#6e6e6e" stroke-width="1.1" stroke-linecap="butt"/>
<text transform="translate(451.90,231.50) scale(0.91,1.05)" text-anchor="end" font-size="9.3" >1500</text>
<line x1="455.70" y1="377.45" x2="455.70" y2="380.05" stroke="#6e6e6e" stroke-width="1.1" stroke-linecap="butt"/>
<text transform="translate(455.70,388.95) scale(0.91,1.05)" text-anchor="middle" font-size="9.3" >0</text>
<line x1="528.13" y1="377.45" x2="528.13" y2="380.05" stroke="#6e6e6e" stroke-width="1.1" stroke-linecap="butt"/>
<text transform="translate(528.13,388.95) scale(0.91,1.05)" text-anchor="middle" font-size="9.3" >500</text>
<line x1="600.56" y1="377.45" x2="600.56" y2="380.05" stroke="#6e6e6e" stroke-width="1.1" stroke-linecap="butt"/>
<text transform="translate(600.56,388.95) scale(0.91,1.05)" text-anchor="middle" font-size="9.3" >1000</text>
<line x1="672.99" y1="377.45" x2="672.99" y2="380.05" stroke="#6e6e6e" stroke-width="1.1" stroke-linecap="butt"/>
<text transform="translate(672.99,388.95) scale(0.91,1.05)" text-anchor="middle" font-size="9.3" >1500</text>
<path d="M453.30,378.05 L453.30,373.31 A2.4,2.4 0 0 1 458.10,373.31 L458.10,378.05 Z" fill="#f98f8c"/>
<path d="M460.54,378.05 L460.54,373.31 A2.4,2.4 0 0 1 465.34,373.31 L465.34,378.05 Z" fill="#f98f8c"/>
<path d="M467.79,378.05 L467.79,371.92 A2.4,2.4 0 0 1 472.59,371.92 L472.59,378.05 Z" fill="#f98f8c"/>
<path d="M475.03,378.05 L475.03,369.05 A2.4,2.4 0 0 1 479.83,369.05 L479.83,378.05 Z" fill="#f98f8c"/>
<path d="M482.27,378.05 L482.27,370.73 A2.4,2.4 0 0 1 487.07,370.73 L487.07,378.05 Z" fill="#f98f8c"/>
<path d="M489.51,378.05 L489.51,362.01 A2.4,2.4 0 0 1 494.31,362.01 L494.31,378.05 Z" fill="#f98f8c"/>
<path d="M496.76,378.05 L496.76,356.96 A2.4,2.4 0 0 1 501.56,356.96 L501.56,378.05 Z" fill="#f98f8c"/>
<path d="M504.00,378.05 L504.00,344.27 A2.4,2.4 0 0 1 508.80,344.27 L508.80,378.05 Z" fill="#f98f8c"/>
<path d="M511.24,378.05 L511.24,316.03 A2.4,2.4 0 0 1 516.04,316.03 L516.04,378.05 Z" fill="#f98f8c"/>
<path d="M518.49,378.05 L518.49,283.62 A2.4,2.4 0 0 1 523.29,283.62 L523.29,378.05 Z" fill="#f98f8c"/>
<path d="M525.73,378.05 L525.73,278.27 A2.4,2.4 0 0 1 530.53,278.27 L530.53,378.05 Z" fill="#f98f8c"/>
<path d="M532.97,378.05 L532.97,275.10 A2.4,2.4 0 0 1 537.77,275.10 L537.77,378.05 Z" fill="#f98f8c"/>
<path d="M540.22,378.05 L540.22,275.10 A2.4,2.4 0 0 1 545.02,275.10 L545.02,378.05 Z" fill="#f98f8c"/>
<path d="M547.46,378.05 L547.46,287.29 A2.4,2.4 0 0 1 552.26,287.29 L552.26,378.05 Z" fill="#f98f8c"/>
<path d="M554.70,378.05 L554.70,304.73 A2.4,2.4 0 0 1 559.50,304.73 L559.50,378.05 Z" fill="#f98f8c"/>
<path d="M561.95,378.05 L561.95,317.71 A2.4,2.4 0 0 1 566.75,317.71 L566.75,378.05 Z" fill="#f98f8c"/>
<path d="M569.19,378.05 L569.19,324.16 A2.4,2.4 0 0 1 573.99,324.16 L573.99,378.05 Z" fill="#f98f8c"/>
<path d="M576.43,378.05 L576.43,332.98 A2.4,2.4 0 0 1 581.23,332.98 L581.23,378.05 Z" fill="#f98f8c"/>
<path d="M583.67,378.05 L583.67,341.80 A2.4,2.4 0 0 1 588.47,341.80 L588.47,378.05 Z" fill="#f98f8c"/>
<path d="M590.92,378.05 L590.92,341.80 A2.4,2.4 0 0 1 595.72,341.80 L595.72,378.05 Z" fill="#f98f8c"/>
<path d="M598.16,378.05 L598.16,349.43 A2.4,2.4 0 0 1 602.96,349.43 L602.96,378.05 Z" fill="#f98f8c"/>
<path d="M605.40,378.05 L605.40,349.43 A2.4,2.4 0 0 1 610.20,349.43 L610.20,378.05 Z" fill="#f98f8c"/>
<path d="M612.65,378.05 L612.65,353.49 A2.4,2.4 0 0 1 617.45,353.49 L617.45,378.05 Z" fill="#f98f8c"/>
<path d="M619.89,378.05 L619.89,358.25 A2.4,2.4 0 0 1 624.69,358.25 L624.69,378.05 Z" fill="#f98f8c"/>
<path d="M627.13,378.05 L627.13,359.63 A2.4,2.4 0 0 1 631.93,359.63 L631.93,378.05 Z" fill="#f98f8c"/>
<path d="M634.38,378.05 L634.38,365.28 A2.4,2.4 0 0 1 639.17,365.28 L639.17,378.05 Z" fill="#f98f8c"/>
<path d="M641.62,378.05 L641.62,364.09 A2.4,2.4 0 0 1 646.42,364.09 L646.42,378.05 Z" fill="#f98f8c"/>
<path d="M648.86,378.05 L648.86,364.69 A2.4,2.4 0 0 1 653.66,364.69 L653.66,378.05 Z" fill="#f98f8c"/>
<path d="M656.10,378.05 L656.10,368.45 A2.4,2.4 0 0 1 660.90,368.45 L660.90,378.05 Z" fill="#f98f8c"/>
<path d="M663.35,378.05 L663.35,367.66 A2.4,2.4 0 0 1 668.15,367.66 L668.15,378.05 Z" fill="#f98f8c"/>
<path d="M670.59,378.05 L670.59,319.99 A2.4,2.4 0 0 1 675.39,319.99 L675.39,378.05 Z" fill="#f98f8c"/>
<text transform="translate(352.20,39.20) scale(1,1)" text-anchor="middle" font-size="10" class="pl">A</text>
<text transform="translate(352.00,270.50) scale(1,1)" text-anchor="middle" font-size="10" class="pl">B</text>
<text transform="translate(634.30,39.20) scale(1,1)" text-anchor="middle" font-size="10" class="pl">A</text>
<text transform="translate(634.30,271.10) scale(1,1)" text-anchor="middle" font-size="10" class="pl">B</text>
<text transform="translate(202.90,419.30) scale(1,1)" text-anchor="middle" font-size="12.7" class="sf">Number of reads</text>
<text transform="translate(576.40,419.30) scale(1,1)" text-anchor="middle" font-size="12.6" class="sf">Contig Length</text>
<text transform="translate(9.5,190.3) rotate(-90)" text-anchor="middle" font-size="12.7" class="sf">Contigs</text>
</svg>
</body></html>
